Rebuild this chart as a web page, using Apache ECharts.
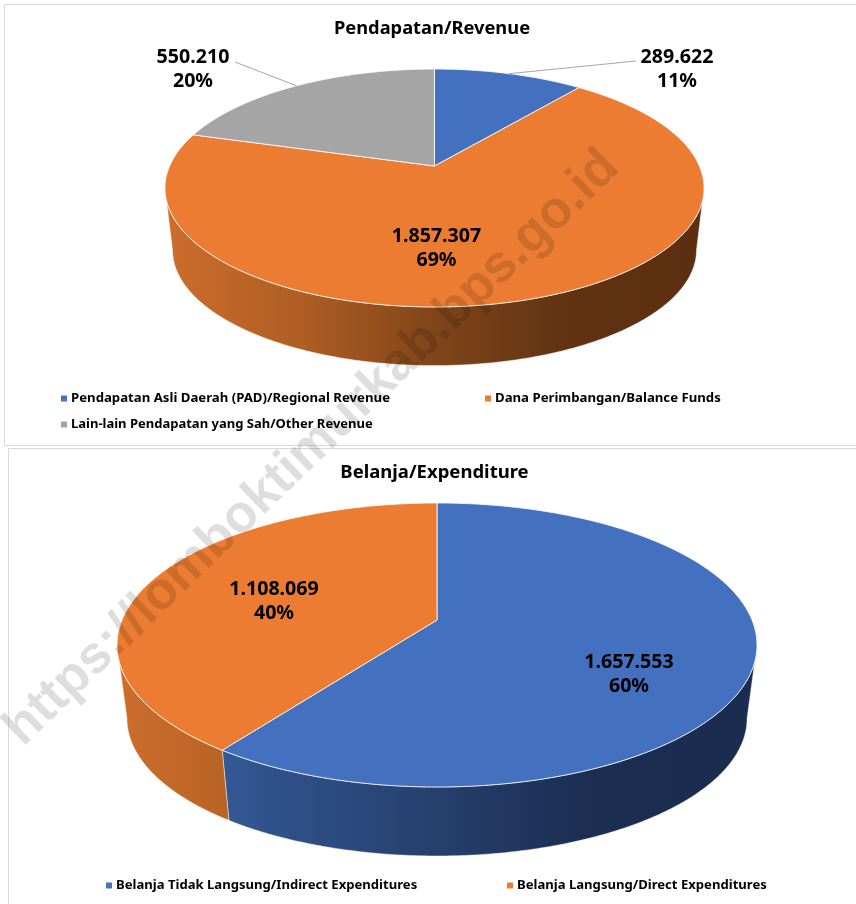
<!DOCTYPE html>
<html>
<head>
<meta charset="utf-8">
<script src="https://cdn.jsdelivr.net/npm/echarts@6/dist/echarts.min.js"></script>
<style>
  html, body {margin: 0; padding: 0; background: #fff;}
  #chart {width: 856px; height: 904px;}
</style>
</head>
<body>
<div id="chart"></div>
<script>
const revenueTitle = "Pendapatan/Revenue";
const revenueNames = [
  "Pendapatan Asli Daerah (PAD)/Regional Revenue",
  "Dana Perimbangan/Balance Funds",
  "Lain-lain Pendapatan yang Sah/Other Revenue",
];
const revenueValues = [289622, 1857307, 550210];

const expenditureTitle = "Belanja/Expenditure";
const expenditureNames = [
  "Belanja Tidak Langsung/Indirect Expenditures",
  "Belanja Langsung/Direct Expenditures",
];
const expenditureValues = [1657553, 1108069];

const watermark = "https://lomboktimurkab.bps.go.id";

const fontFamily = "Noto Sans";
const blue = "#4371c0";
const orange = "#eb7c32";
const gray = "#a5a5a5";
const blueWall = ["#3d68ad", "#2f5189", "#263f6d", "#1b2d50", "#1a2c4f"];
const orangeWall = ["#cc6e2c", "#b05e24", "#80451a", "#603211", "#5c2f10"];

// p is the perspective strength, walls shrink toward vanishY
const revenuePie = {cx: 434.5, apexY: 166, k: 264.9, m: 114.9, p: 0.1849, vanishY: 2400, wallScale: 0.972};
const expenditurePie = {cx: 437, apexY: 620, k: 315, m: 137.6, p: 0.176, vanishY: 3012, wallScale: 0.969};

function project(pie, angle) {
  const u = Math.sin(angle);
  const v = -Math.cos(angle);
  const d = 1 - pie.p * v;
  return [pie.cx + pie.k * u / d, pie.apexY + pie.m * v / d];
}

function projectBottom(pie, angle) {
  const pt = project(pie, angle);
  return [
    pie.cx + pie.wallScale * (pt[0] - pie.cx),
    pie.vanishY + pie.wallScale * (pt[1] - pie.vanishY),
  ];
}

function arc(fn, pie, from, to) {
  const points = [];
  const steps = Math.max(2, Math.ceil((to - from) / 0.01));
  for (let i = 0; i <= steps; i++) {
    points.push(fn(pie, from + (to - from) * i / steps));
  }
  return points;
}

function formatValue(value) {
  return String(value).replace(/\B(?=(\d{3})+$)/g, ".");
}

function wallGradient(pie, stops) {
  const halfWidth = pie.k * 1.02;
  return {
    type: "linear",
    global: true,
    x: pie.cx - halfWidth,
    y: 0,
    x2: pie.cx + halfWidth,
    y2: 0,
    colorStops: stops.map((color, i) => ({offset: i / (stops.length - 1), color: color})),
  };
}

function sliceSeries(pie, names, values, index, sliceStyle) {
  const total = values.reduce((a, b) => a + b, 0);
  const before = values.slice(0, index).reduce((a, b) => a + b, 0);
  const start = before / total * Math.PI * 2;
  const end = (before + values[index]) / total * Math.PI * 2;

  return {
    type: "custom",
    name: names[index],
    coordinateSystem: "none",
    itemStyle: {color: sliceStyle.color},
    silent: true,
    data: [[values[index]]],
    renderItem: (params, api) => {
      const value = api.value(0);
      const children = [];

      // the wall only shows on the near side of the rim
      const edge = Math.acos(-pie.p);
      const wallFrom = Math.max(start, edge);
      const wallTo = Math.min(end, Math.PI * 2 - edge);
      if (sliceStyle.wall && wallTo > wallFrom) {
        const wallPoints = arc(project, pie, wallFrom, wallTo)
          .concat(arc(projectBottom, pie, wallFrom, wallTo).reverse());
        children.push({
          type: "polygon",
          shape: {points: wallPoints},
          style: {fill: wallGradient(pie, sliceStyle.wall), stroke: "rgba(255,255,255,0.45)", lineWidth: 1},
        });
      }

      const topPoints = [[pie.cx, pie.apexY]].concat(arc(project, pie, start, end));
      children.push({
        type: "polygon",
        z2: 2,
        shape: {points: topPoints},
        style: {fill: sliceStyle.color, stroke: "rgba(255,255,255,0.8)", lineWidth: 1},
      });

      if (sliceStyle.leader) {
        children.push({
          type: "polyline",
          z2: 3,
          shape: {points: [sliceStyle.leader, project(pie, (start + end) / 2)]},
          style: {fill: null, stroke: "#a6a6a6", lineWidth: 1},
        });
      }

      children.push({
        type: "text",
        z2: 4,
        style: {
          text: formatValue(value) + "\n" + Math.round(value / total * 100) + "%",
          x: sliceStyle.label[0],
          y: sliceStyle.label[1],
          align: "center",
          verticalAlign: "middle",
          fontFamily: fontFamily,
          fontWeight: "bold",
          fontSize: 19.6,
          lineHeight: 24,
          fill: "#000",
        },
      });

      return {type: "group", children: children};
    },
  };
}

function legendFor(name, left, top, fontSize) {
  return {
    data: [name],
    left: left,
    top: top,
    padding: 0,
    icon: "rect",
    itemWidth: 6,
    itemHeight: 6,
    itemGap: 0,
    selectedMode: false,
    textStyle: {color: "#000", fontFamily: fontFamily, fontWeight: "bold", fontSize: fontSize, padding: [0, 0, 0, -1]},
  };
}

function titleFor(text, left, top, fontSize) {
  return {
    text: text,
    left: left,
    top: top,
    textAlign: "center",
    padding: 0,
    textStyle: {color: "#000", fontFamily: fontFamily, fontWeight: "bold", fontSize: fontSize},
  };
}

const option = {
  animation: false,
  backgroundColor: "#fff",
  title: [
    titleFor(revenueTitle, 432, 20, 18.3),
    titleFor(expenditureTitle, 434.5, 463, 18.5),
  ],
  legend: [
    legendFor(revenueNames[0], 61, 392, 13.2),
    legendFor(revenueNames[1], 485, 392, 13.2),
    legendFor(revenueNames[2], 61, 418, 13),
    legendFor(expenditureNames[0], 106, 879, 13.1),
    legendFor(expenditureNames[1], 507, 879, 13.1),
  ],
  graphic: [
    {type: "rect", z: 0, shape: {x: 4.5, y: 4.5, width: 900, height: 441}, style: {fill: "#fff", stroke: "#d9d9d9", lineWidth: 1}},
    {type: "rect", z: 0, shape: {x: 8.5, y: 448.5, width: 900, height: 500}, style: {fill: "#fff", stroke: "#d9d9d9", lineWidth: 1}},
    {
      type: "text",
      z: 50,
      silent: true,
      x: 312,
      y: 448,
      rotation: Math.PI * 44 / 180,
      style: {
        text: watermark,
        align: "center",
        verticalAlign: "middle",
        fontFamily: "Liberation Sans",
        fontWeight: "bold",
        fontSize: 52.5,
        fill: "rgba(0,0,0,0.13)",
      },
    },
  ],
  series: [
    sliceSeries(revenuePie, revenueNames, revenueValues, 0, {color: blue, label: [677, 69], leader: [636, 61]}),
    sliceSeries(revenuePie, revenueNames, revenueValues, 1, {color: orange, wall: orangeWall, label: [436.5, 248]}),
    sliceSeries(revenuePie, revenueNames, revenueValues, 2, {color: gray, label: [193, 69], leader: [235, 62]}),
    sliceSeries(expenditurePie, expenditureNames, expenditureValues, 0, {color: blue, wall: blueWall, label: [629, 674]}),
    sliceSeries(expenditurePie, expenditureNames, expenditureValues, 1, {color: orange, wall: orangeWall, label: [274, 601]}),
  ],
};

const chart = echarts.init(document.getElementById("chart"), null, {renderer: "canvas"});
chart.setOption(option);
</script>
</body>
</html>
